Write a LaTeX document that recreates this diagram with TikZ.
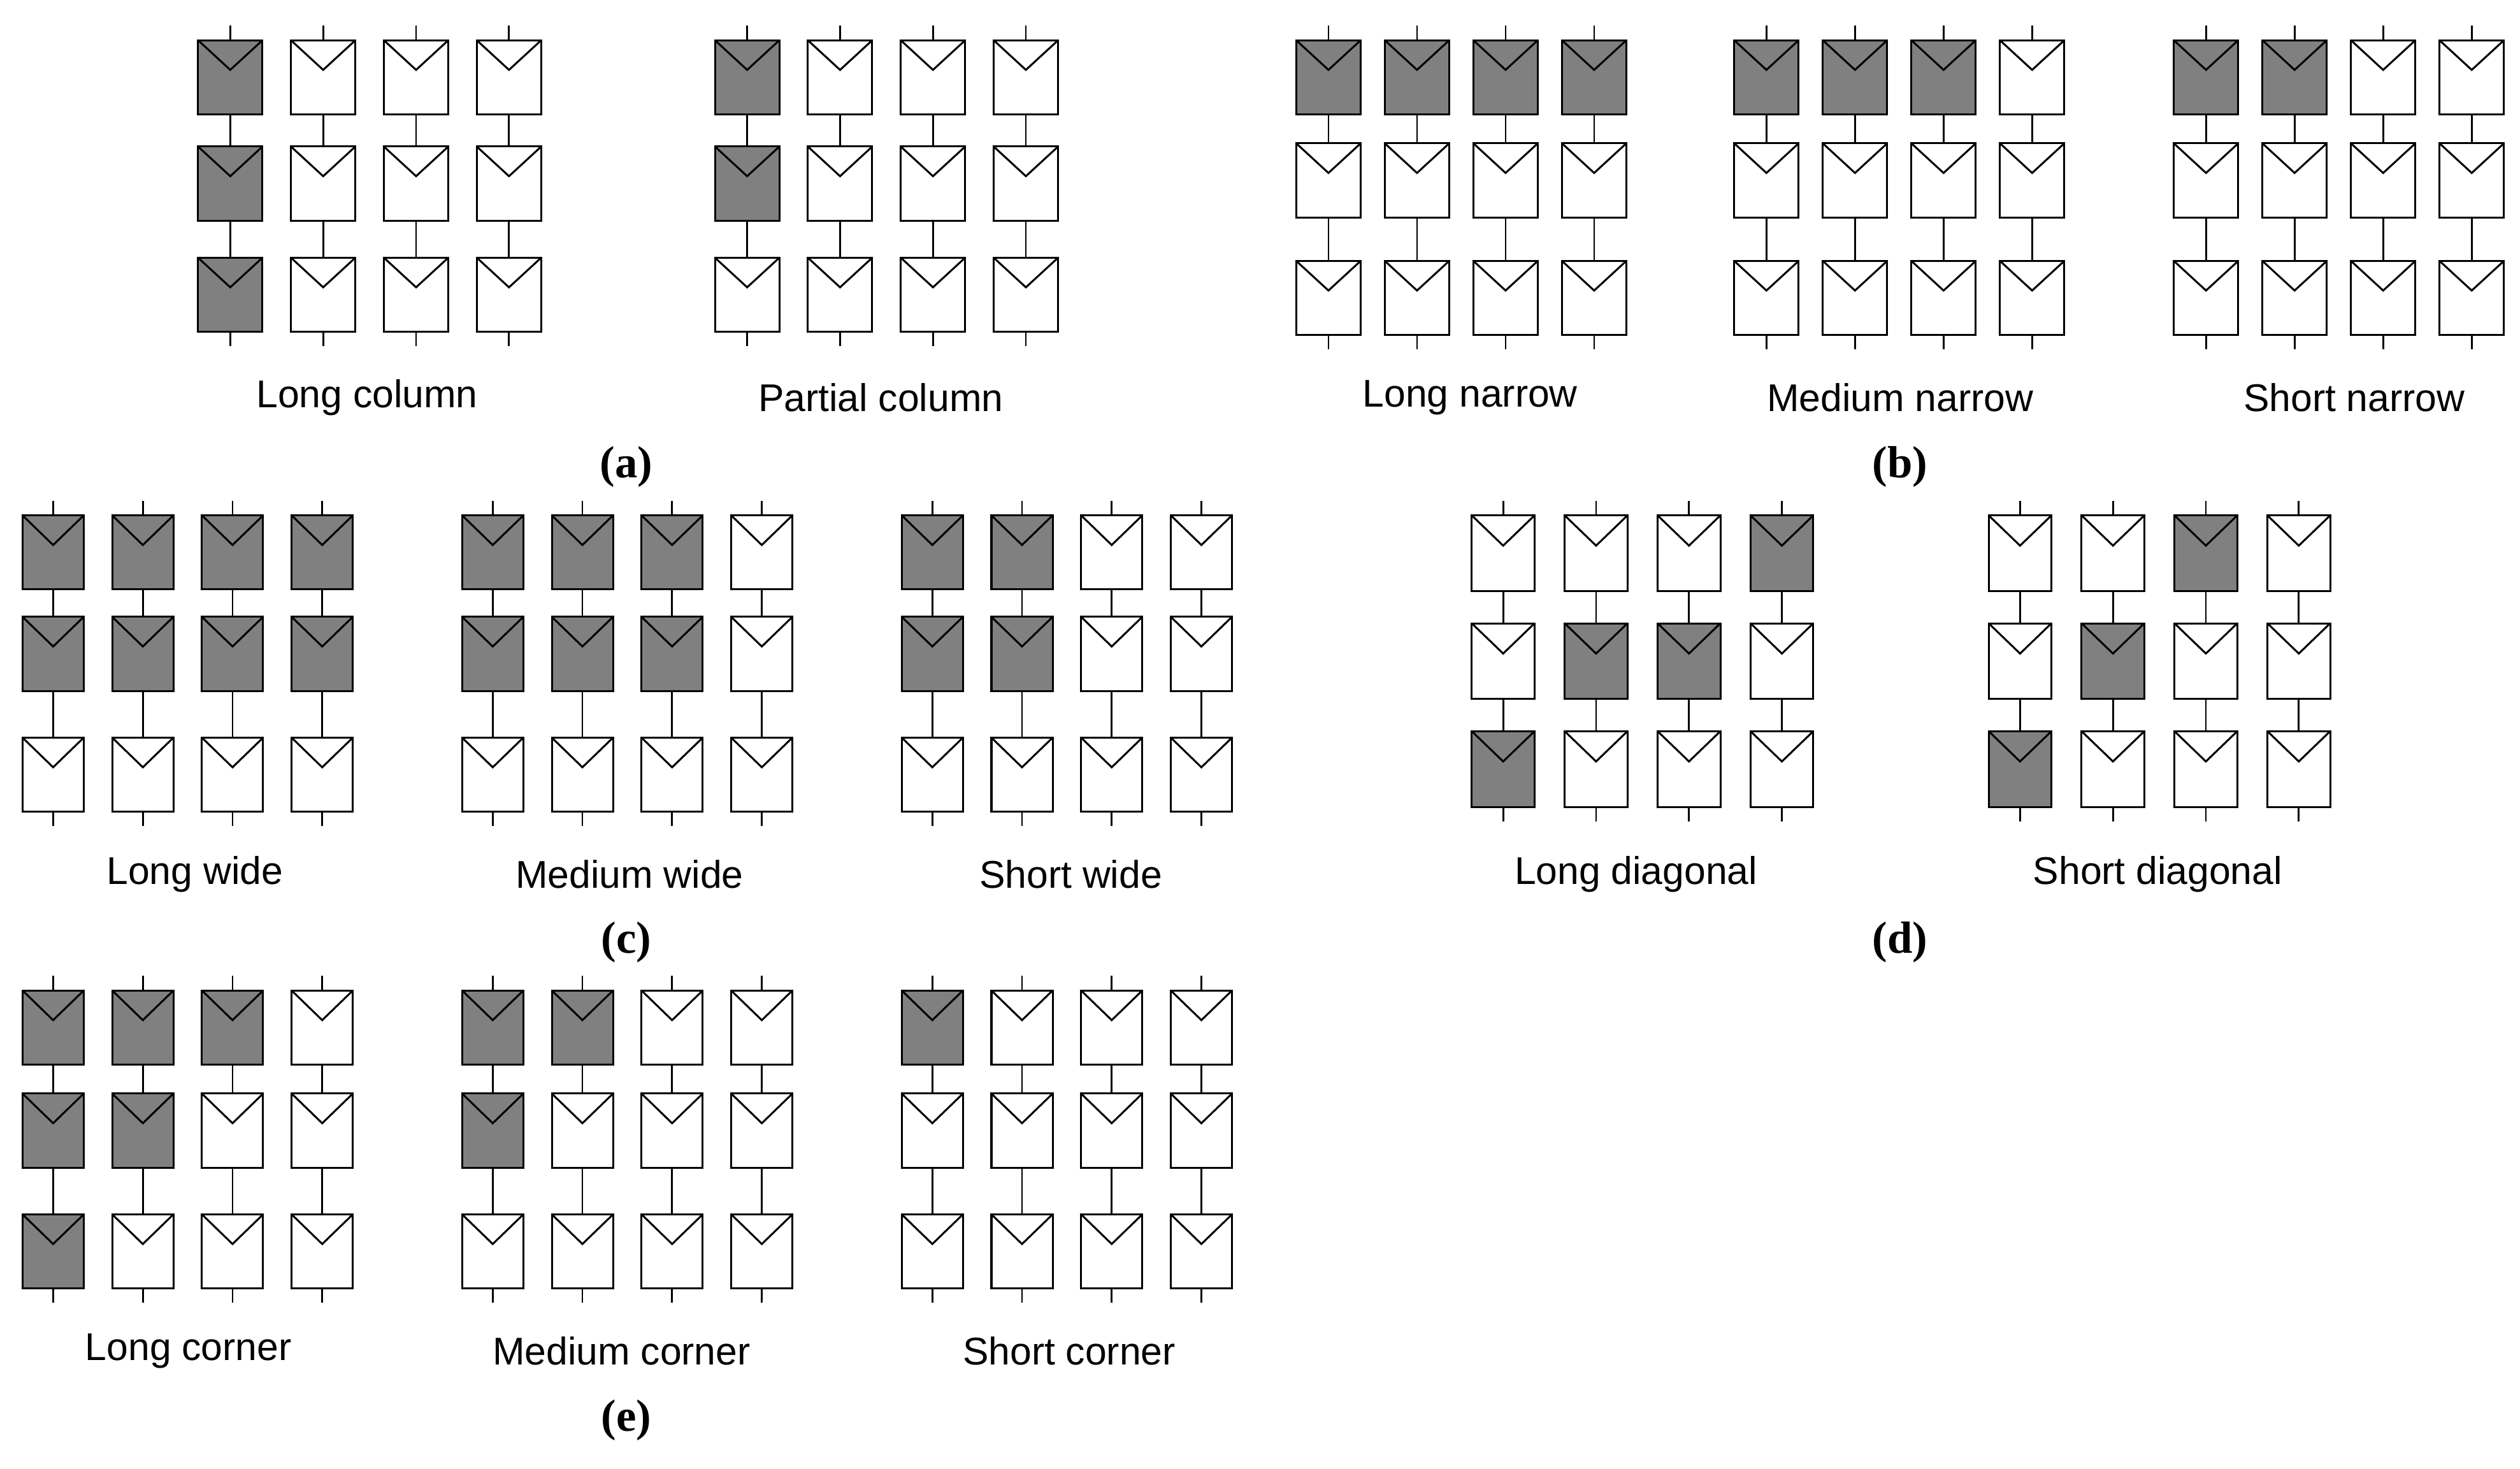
\documentclass[tikz,border=0pt]{standalone}
\usepackage{fontspec}
\setmainfont{Liberation Sans}
\newfontfamily\capfont{Liberation Serif}
\usetikzlibrary{calc,positioning}
\definecolor{pvgray}{gray}{0.5}

\tikzset{pv/.style={rectangle,draw=black,line width=1.2pt,inner sep=0pt,outer sep=0pt,anchor=north west,
		path picture={\draw[line width=1.2pt] (path picture bounding box.north west)
			-- ($(path picture bounding box.north)!0.4!(path picture bounding box.south)$)
			-- (path picture bounding box.north east);}},
	wire/.style={line width=1.1pt},
	lbl/.style={font=\fontsize{24}{28}\selectfont},
	sub/.style={font=\capfont\bfseries\fontsize{28}{32}\selectfont}}

% #1 name, #2 left, #3 pitch, #4 width, #5 height, #6-#8 row tops, #9 shaded r/c
\newcommand\pvblock[9]{%
	\foreach \r/\c in {#9}{\expandafter\gdef\csname pvs@#1-\r-\c\endcsname{}}
	\foreach \c in {1,...,4}{
		\foreach \r/\ry in {1/#6,2/#7,3/#8}{
			\ifcsname pvs@#1-\r-\c\endcsname\def\pvfill{pvgray}\else\def\pvfill{white}\fi
			\node[pv,fill=\pvfill,minimum width=#4,minimum height=#5] (#1-\r-\c) at (#2+\c*#3-#3,\ry) {};
		}
		\coordinate (#1-t-\c) at ($(#1-1-\c.north)+(0,-9)$);
		\coordinate (#1-b-\c) at ($(#1-3-\c.south)+(0,9)$);
		\draw[wire] (#1-t-\c) -- (#1-1-\c.north) (#1-1-\c.south) -- (#1-2-\c.north)
			(#1-2-\c.south) -- (#1-3-\c.north) (#1-3-\c.south) -- (#1-b-\c);
	}
}

\begin{document}
\begin{tikzpicture}[x=1pt,y=-1pt]
\useasboundingbox (0,0) rectangle (1565,912);

% (a)
\pvblock{lcol}{123}{57.7}{40pt}{46pt}{25}{91}{160}{1/1,2/1,3/1}
\pvblock{pcol}{444}{57.7}{40pt}{46pt}{25}{91}{160}{1/1,2/1}
\node[lbl] (lcoltxt) at (228,247) {Long column};
\node[lbl] (pcoltxt) at (547,247) {Partial column};
\node[sub] (capa) at (389,290) {(a)};

% (b)
\pvblock{lnar}{805}{55}{40pt}{46pt}{25}{89}{162}{1/1,1/2,1/3,1/4}
\pvblock{mnar}{1077}{55}{40pt}{46pt}{25}{89}{162}{1/1,1/2,1/3}
\pvblock{snar}{1350}{55}{40pt}{46pt}{25}{89}{162}{1/1,1/2}
\node[lbl] (lnartxt) at (913,247) {Long narrow};
\node[lbl] (mnartxt) at (1180,247) {Medium narrow};
\node[lbl] (snartxt) at (1462,247) {Short narrow};
\node[sub] (capb) at (1180,290) {(b)};

% (c)
\pvblock{lwid}{14}{55.7}{38pt}{46pt}{320}{383}{458}{1/1,1/2,1/3,1/4,2/1,2/2,2/3,2/4}
\pvblock{mwid}{287}{55.7}{38pt}{46pt}{320}{383}{458}{1/1,1/2,1/3,2/1,2/2,2/3}
\pvblock{swid}{560}{55.7}{38pt}{46pt}{320}{383}{458}{1/1,1/2,2/1,2/2}
\node[lbl] (lwidtxt) at (121,543) {Long wide};
\node[lbl] (mwidtxt) at (391,543) {Medium wide};
\node[lbl] (swidtxt) at (665,543) {Short wide};
\node[sub] (capc) at (389,585) {(c)};

% (d)
\pvblock{ldia}{914}{57.7}{39pt}{47pt}{320}{387}{454}{1/4,2/2,2/3,3/1}
\pvblock{sdia}{1235}{57.7}{39pt}{47pt}{320}{387}{454}{1/3,2/2,3/1}
\node[lbl] (ldiatxt) at (1016,543) {Long diagonal};
\node[lbl] (sdiatxt) at (1340,543) {Short diagonal};
\node[sub] (capd) at (1180,585) {(d)};

% (e)
\pvblock{lcor}{14}{55.7}{38pt}{46pt}{615}{679}{754}{1/1,1/2,1/3,2/1,2/2,3/1}
\pvblock{mcor}{287}{55.7}{38pt}{46pt}{615}{679}{754}{1/1,1/2,2/1}
\pvblock{scor}{560}{55.7}{38pt}{46pt}{615}{679}{754}{1/1}
\node[lbl] (lcortxt) at (117,839) {Long corner};
\node[lbl] (mcortxt) at (386,839) {Medium corner};
\node[lbl] (scortxt) at (664,839) {Short corner};
\node[sub] (cape) at (389,882) {(e)};
\end{tikzpicture}
\end{document}
